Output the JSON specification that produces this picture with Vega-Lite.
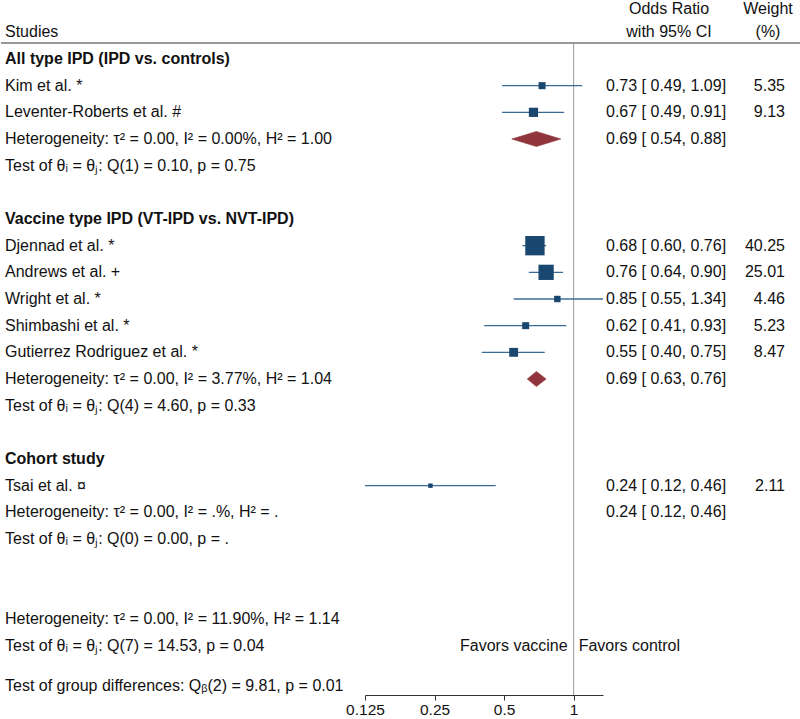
{
  "$schema": "https://vega.github.io/schema/vega-lite/v6.json",
  "padding": 0,
  "background": "white",
  "spacing": 0,
  "bounds": "flush",
  "config": {
    "view": {"stroke": null},
    "font": "Liberation Sans",
    "text": {"font": "Liberation Sans", "fontSize": 16, "color": "#111111", "baseline": "middle"},
    "concat": {"spacing": 0}
  },
  "datasets": {
    "rows": [
      {"row": 1, "label": "All type IPD (IPD vs. controls)", "bold": true},
      {"row": 2, "label": "Kim et al. *", "type": "study", "est": 0.73, "lo": 0.49, "hi": 1.09, "weight": 5.35, "ortext": "0.73 [ 0.49, 1.09]", "wtext": "5.35"},
      {"row": 3, "label": "Leventer-Roberts et al. #", "type": "study", "est": 0.67, "lo": 0.49, "hi": 0.91, "weight": 9.13, "ortext": "0.67 [ 0.49, 0.91]", "wtext": "9.13"},
      {"row": 4, "label": "Heterogeneity: τ² = 0.00, I² = 0.00%, H² = 1.00", "type": "pooled", "est": 0.69, "lo": 0.54, "hi": 0.88, "ortext": "0.69 [ 0.54, 0.88]"},
      {"row": 5, "label": "Test of θᵢ = θⱼ: Q(1) = 0.10, p = 0.75"},
      {"row": 7, "label": "Vaccine type IPD (VT-IPD vs. NVT-IPD)", "bold": true},
      {"row": 8, "label": "Djennad et al. *", "type": "study", "est": 0.68, "lo": 0.60, "hi": 0.76, "weight": 40.25, "ortext": "0.68 [ 0.60, 0.76]", "wtext": "40.25"},
      {"row": 9, "label": "Andrews et al. +", "type": "study", "est": 0.76, "lo": 0.64, "hi": 0.90, "weight": 25.01, "ortext": "0.76 [ 0.64, 0.90]", "wtext": "25.01"},
      {"row": 10, "label": "Wright et al. *", "type": "study", "est": 0.85, "lo": 0.55, "hi": 1.34, "weight": 4.46, "ortext": "0.85 [ 0.55, 1.34]", "wtext": "4.46"},
      {"row": 11, "label": "Shimbashi et al. *", "type": "study", "est": 0.62, "lo": 0.41, "hi": 0.93, "weight": 5.23, "ortext": "0.62 [ 0.41, 0.93]", "wtext": "5.23"},
      {"row": 12, "label": "Gutierrez Rodriguez et al. *", "type": "study", "est": 0.55, "lo": 0.40, "hi": 0.75, "weight": 8.47, "ortext": "0.55 [ 0.40, 0.75]", "wtext": "8.47"},
      {"row": 13, "label": "Heterogeneity: τ² = 0.00, I² = 3.77%, H² = 1.04", "type": "pooled", "est": 0.69, "lo": 0.63, "hi": 0.76, "ortext": "0.69 [ 0.63, 0.76]"},
      {"row": 14, "label": "Test of θᵢ = θⱼ: Q(4) = 4.60, p = 0.33"},
      {"row": 16, "label": "Cohort study", "bold": true},
      {"row": 17, "label": "Tsai et al. ¤", "type": "study", "est": 0.24, "lo": 0.12, "hi": 0.46, "weight": 2.11, "ortext": "0.24 [ 0.12, 0.46]", "wtext": "2.11"},
      {"row": 18, "label": "Heterogeneity: τ² = 0.00, I² = .%, H² = .", "type": "het", "ortext": "0.24 [ 0.12, 0.46]"},
      {"row": 19, "label": "Test of θᵢ = θⱼ: Q(0) = 0.00, p = ."},
      {"row": 22, "label": "Heterogeneity: τ² = 0.00, I² = 11.90%, H² = 1.14"},
      {"row": 23, "label": "Test of θᵢ = θⱼ: Q(7) = 14.53, p = 0.04", "favorsL": "Favors vaccine", "favorsR": "Favors control"},
      {"row": 24.5, "label": "Test of group differences: Qᵦ(2) = 9.81, p = 0.01"}
    ],
    "headers": [
      {"col": "study", "row": 0, "text": "Studies"},
      {"col": "or", "row": -0.875, "text": "Odds Ratio"},
      {"col": "or", "row": 0, "text": "with 95% CI"},
      {"col": "wt", "row": -0.875, "text": "Weight"},
      {"col": "wt", "row": 0, "text": "(%)"}
    ],
    "profile": [
      {"part": "lo", "half": 0},
      {"part": "est", "half": 1},
      {"part": "hi", "half": 0}
    ]
  },
  "hconcat": [
    {
      "width": 364,
      "height": 693,
      "layer": [
        {
          "data": {"values": [{}]},
          "mark": {"type": "rule", "color": "#333333", "strokeWidth": 1.2},
          "encoding": {"y": {"datum": 0.4, "type": "quantitative", "scale": {"domain": [-1.1375, 24.85], "reverse": true, "nice": false, "zero": false}, "axis": null}}
        },
        {
          "data": {"name": "headers"},
          "transform": [{"filter": "datum.col === 'study'"}],
          "mark": {"type": "text", "align": "left"},
          "encoding": {"x": {"value": 4}, "y": {"field": "row", "type": "quantitative"}, "text": {"field": "text"}}
        },
        {
          "data": {"name": "rows"},
          "transform": [{"filter": "!datum.bold"}],
          "mark": {"type": "text", "align": "left"},
          "encoding": {"x": {"value": 4}, "y": {"field": "row", "type": "quantitative"}, "text": {"field": "label"}}
        },
        {
          "data": {"name": "rows"},
          "transform": [{"filter": "datum.bold"}],
          "mark": {"type": "text", "align": "left", "fontWeight": "bold"},
          "encoding": {"x": {"value": 4}, "y": {"field": "row", "type": "quantitative"}, "text": {"field": "label"}}
        }
      ]
    },
    {
      "width": 238,
      "height": 693,
      "layer": [
        {
          "data": {"values": [{}]},
          "mark": {"type": "rule", "color": "#333333", "strokeWidth": 1.2},
          "encoding": {"y": {"datum": 0.4, "type": "quantitative", "scale": {"domain": [-1.1375, 24.85], "reverse": true, "nice": false, "zero": false}, "axis": null}}
        },
        {
          "data": {"values": [{}]},
          "mark": {"type": "rule", "color": "#9a9a9a", "strokeWidth": 1},
          "encoding": {
            "x": {"datum": 1, "type": "quantitative", "scale": {"type": "log", "base": 2, "domain": [0.125, 1.34], "nice": false}, "axis": {"values": [0.125, 0.25, 0.5, 1], "format": "~g", "title": null, "grid": false, "domainColor": "#333333", "tickColor": "#333333", "tickSize": 5, "labelFontSize": 15.5, "labelFont": "Liberation Sans", "labelColor": "#111111", "labelPadding": 2, "labelFlush": false}},
            "y": {"datum": 0.4, "type": "quantitative", "scale": {"domain": [-1.1375, 24.85], "reverse": true, "nice": false, "zero": false}, "axis": null},
            "y2": {"datum": 24.85}
          }
        },
        {
          "data": {"name": "rows"},
          "transform": [{"filter": "datum.type === 'study'"}],
          "mark": {"type": "rule", "color": "#3b6c99", "strokeWidth": 1.3, "clip": true},
          "encoding": {"x": {"field": "lo", "type": "quantitative"}, "x2": {"field": "hi"}, "y": {"field": "row", "type": "quantitative", "scale": {"domain": [-1.1375, 24.85], "reverse": true, "nice": false, "zero": false}, "axis": null}}
        },
        {
          "data": {"name": "rows"},
          "transform": [{"filter": "datum.type === 'study'"}],
          "mark": {"type": "point", "shape": "square", "filled": true, "color": "#1a476f", "opacity": 1},
          "encoding": {
            "x": {"field": "est", "type": "quantitative"},
            "y": {"field": "row", "type": "quantitative", "scale": {"domain": [-1.1375, 24.85], "reverse": true, "nice": false, "zero": false}, "axis": null},
            "size": {"field": "weight", "type": "quantitative", "scale": {"domain": [0, 40.25], "range": [0, 375], "zero": true}, "legend": null}
          }
        },
        {
          "data": {"name": "rows"},
          "transform": [
            {"filter": "datum.type === 'pooled'"},
            {"fold": ["lo", "est", "hi"], "as": ["part", "val"]},
            {"lookup": "part", "from": {"data": {"name": "profile"}, "key": "part", "fields": ["half"]}}
          ],
          "mark": {"type": "line", "fill": "#90353b", "stroke": "#90353b", "strokeWidth": 0.6, "interpolate": "linear"},
          "encoding": {
            "x": {"field": "val", "type": "quantitative"},
            "y": {"field": "row", "type": "ordinal", "scale": {"type": "band", "domain": [0,1,2,3,4,5,6,7,8,9,10,11,12,13,14,15,16,17,18,19,20,21,22,23,24], "paddingInner": 0, "paddingOuter": 0.49375, "align": 0.6456}, "axis": null},
            "yOffset": {"field": "half", "type": "quantitative", "scale": {"domain": [0, 1], "range": [13.333, 5.833], "zero": false, "nice": false}},
            "detail": {"field": "row", "type": "nominal"},
            "order": {"field": "val", "type": "quantitative"}
          }
        },
        {
          "data": {"name": "rows"},
          "transform": [
            {"filter": "datum.type === 'pooled'"},
            {"fold": ["lo", "est", "hi"], "as": ["part", "val"]},
            {"lookup": "part", "from": {"data": {"name": "profile"}, "key": "part", "fields": ["half"]}}
          ],
          "mark": {"type": "line", "fill": "#90353b", "stroke": "#90353b", "strokeWidth": 0.6, "interpolate": "linear"},
          "encoding": {
            "x": {"field": "val", "type": "quantitative"},
            "y": {"field": "row", "type": "ordinal", "scale": {"type": "band", "domain": [0,1,2,3,4,5,6,7,8,9,10,11,12,13,14,15,16,17,18,19,20,21,22,23,24], "paddingInner": 0, "paddingOuter": 0.49375, "align": 0.6456}, "axis": null},
            "yOffset": {"field": "half", "type": "quantitative", "scale": {"domain": [0, 1], "range": [13.333, 20.833], "zero": false, "nice": false}},
            "detail": {"field": "row", "type": "nominal"},
            "order": {"field": "val", "type": "quantitative"}
          }
        },
        {
          "data": {"name": "rows"},
          "transform": [{"filter": "datum.favorsL"}],
          "mark": {"type": "text", "align": "right", "dx": -6},
          "encoding": {"x": {"datum": 1, "type": "quantitative"}, "y": {"field": "row", "type": "quantitative", "scale": {"domain": [-1.1375, 24.85], "reverse": true, "nice": false, "zero": false}, "axis": null}, "text": {"field": "favorsL"}}
        },
        {
          "data": {"name": "rows"},
          "transform": [{"filter": "datum.favorsR"}],
          "mark": {"type": "text", "align": "left", "dx": 5},
          "encoding": {"x": {"datum": 1, "type": "quantitative"}, "y": {"field": "row", "type": "quantitative", "scale": {"domain": [-1.1375, 24.85], "reverse": true, "nice": false, "zero": false}, "axis": null}, "text": {"field": "favorsR"}}
        }
      ],
      "resolve": {"scale": {"y": "independent", "yOffset": "independent"}}
    },
    {
      "width": 118,
      "height": 693,
      "layer": [
        {
          "data": {"values": [{}]},
          "mark": {"type": "rule", "color": "#333333", "strokeWidth": 1.2},
          "encoding": {"y": {"datum": 0.4, "type": "quantitative", "scale": {"domain": [-1.1375, 24.85], "reverse": true, "nice": false, "zero": false}, "axis": null}}
        },
        {
          "data": {"name": "headers"},
          "transform": [{"filter": "datum.col === 'or'"}],
          "mark": {"type": "text", "align": "center"},
          "encoding": {"x": {"value": 66}, "y": {"field": "row", "type": "quantitative"}, "text": {"field": "text"}}
        },
        {
          "data": {"name": "rows"},
          "transform": [{"filter": "datum.ortext"}],
          "mark": {"type": "text", "align": "left"},
          "encoding": {"x": {"value": 3}, "y": {"field": "row", "type": "quantitative"}, "text": {"field": "ortext"}}
        }
      ]
    },
    {
      "width": 80,
      "height": 693,
      "layer": [
        {
          "data": {"values": [{}]},
          "mark": {"type": "rule", "color": "#333333", "strokeWidth": 1.2},
          "encoding": {"y": {"datum": 0.4, "type": "quantitative", "scale": {"domain": [-1.1375, 24.85], "reverse": true, "nice": false, "zero": false}, "axis": null}}
        },
        {
          "data": {"name": "headers"},
          "transform": [{"filter": "datum.col === 'wt'"}],
          "mark": {"type": "text", "align": "center"},
          "encoding": {"x": {"value": 47}, "y": {"field": "row", "type": "quantitative"}, "text": {"field": "text"}}
        },
        {
          "data": {"name": "rows"},
          "transform": [{"filter": "datum.wtext"}],
          "mark": {"type": "text", "align": "right"},
          "encoding": {"x": {"value": 64}, "y": {"field": "row", "type": "quantitative"}, "text": {"field": "wtext"}}
        }
      ]
    }
  ]
}
